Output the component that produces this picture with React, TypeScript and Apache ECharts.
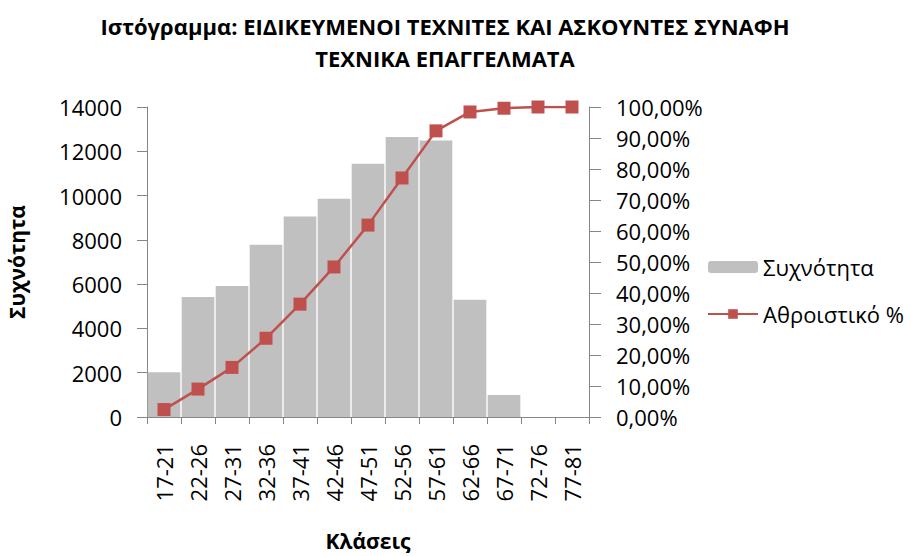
import React, { useEffect, useRef } from "react";
import * as echarts from "echarts";

const titleText = "Ιστόγραμμα: ΕΙΔΙΚΕΥΜΕΝΟΙ ΤΕΧΝΙΤΕΣ ΚΑΙ ΑΣΚΟΥΝΤΕΣ ΣΥΝΑΦΗ\nΤΕΧΝΙΚΑ ΕΠΑΓΓΕΛΜΑΤΑ";
const categories = ["17-21", "22-26", "27-31", "32-36", "37-41", "42-46", "47-51", "52-56", "57-61", "62-66", "67-71", "72-76", "77-81"];
const frequency = [2020, 5420, 5920, 7780, 9050, 9860, 11440, 12650, 12490, 5300, 990, 0, 0];
const cumulativePct = [2.4, 9.0, 16.0, 25.4, 36.4, 48.4, 61.9, 77.1, 92.3, 98.4, 99.6, 100, 100];
const leftTicks = { min: 0, max: 14000, interval: 2000 };
const rightTicks = { min: 0, max: 100, interval: 10 };

const FONT = "'Open Sans', 'Noto Sans', sans-serif";

export default function App() {
  const ref = useRef<HTMLDivElement>(null);
  useEffect(() => {
    document.body.style.margin = "0";
    if (!ref.current) return;
    const chart = echarts.init(ref.current, null, { renderer: "svg" });
    const axisLine = { show: true, lineStyle: { color: "#868686", width: 1 } };
    chart.setOption({
      animation: false,
      backgroundColor: "#fff",
      title: {
        text: titleText,
        left: 445,
        top: 10,
        padding: 0,
        textAlign: "center",
        textStyle: { fontFamily: FONT, fontWeight: "bold", fontSize: 22, lineHeight: 32, color: "#000" },
      },
      legend: {
        orient: "vertical",
        left: 707,
        top: 256,
        padding: 0,
        itemWidth: 50,
        itemHeight: 12,
        itemGap: 25,
        textStyle: { fontFamily: FONT, fontSize: 22, color: "#000" },
        data: ["Συχνότητα", "Αθροιστικό %"],
      },
      grid: { left: 147, right: 322, top: 107, bottom: 136, containLabel: false },
      xAxis: {
        type: "category",
        data: categories,
        boundaryGap: true,
        axisLine,
        axisTick: { show: true, length: 7, lineStyle: { color: "#868686" } },
        axisLabel: { rotate: 90, margin: 27, fontFamily: FONT, fontSize: 22, color: "#000", interval: 0 },
        name: "Κλάσεις",
        nameLocation: "middle",
        nameGap: 113,
        nameTextStyle: { fontFamily: FONT, fontWeight: "bold", fontSize: 21, color: "#000", verticalAlign: "top" },
      },
      yAxis: [
        {
          type: "value",
          ...leftTicks,
          axisLine,
          axisTick: { show: true, length: 10, lineStyle: { color: "#868686" } },
          splitLine: { show: false },
          axisLabel: {
            margin: 25,
            fontFamily: FONT,
            fontSize: 22,
            color: "#000",
            formatter: (v: number) => String(v),
          },
          name: "Συχνότητα",
          nameLocation: "middle",
          nameGap: 120,
          nameRotate: 90,
          nameTextStyle: { fontFamily: FONT, fontWeight: "bold", fontSize: 21, color: "#000" },
        },
        {
          type: "value",
          position: "right",
          ...rightTicks,
          axisLine,
          axisTick: { show: true, length: 12, lineStyle: { color: "#868686" } },
          splitLine: { show: false },
          axisLabel: {
            margin: 27,
            fontFamily: FONT,
            fontSize: 22,
            color: "#000",
            formatter: (v: number) => v.toFixed(2).replace(".", ",") + "%",
          },
        },
      ],
      series: [
        {
          name: "Συχνότητα",
          type: "bar",
          data: frequency,
          barCategoryGap: "4%",
          itemStyle: { color: "#C0C0C0" },
        },
        {
          name: "Αθροιστικό %",
          type: "line",
          yAxisIndex: 1,
          data: cumulativePct,
          symbol: "rect",
          symbolSize: 13,
          lineStyle: { color: "#C0504D", width: 2.5 },
          itemStyle: { color: "#C0504D" },
        },
      ],
    });
    return () => chart.dispose();
  }, []);
  return <div ref={ref} style={{ width: 911, height: 556 }} />;
}
